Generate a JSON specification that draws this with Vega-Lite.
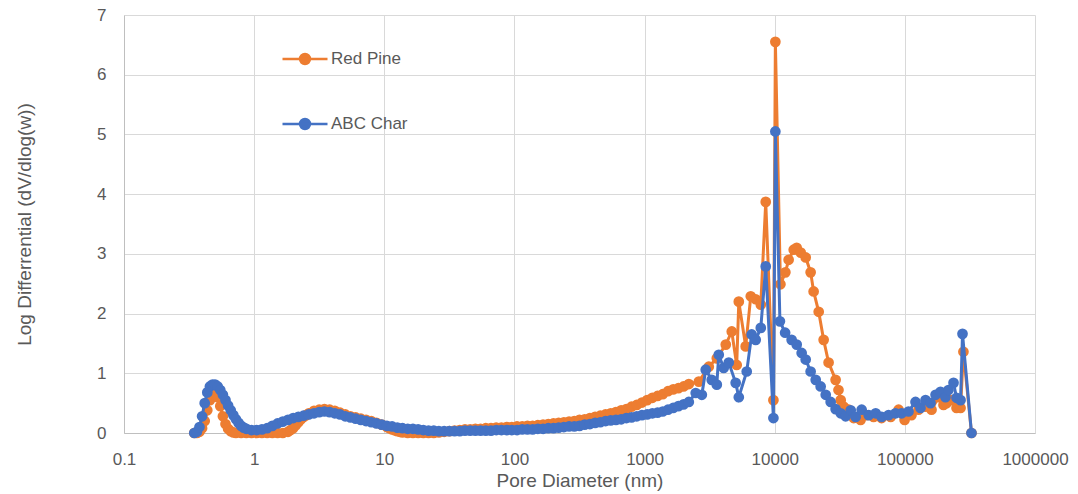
{
"$schema": "https://vega.github.io/schema/vega-lite/v6.json",
"width": 911,
"height": 418,
"autosize": {"type": "none"},
"padding": {"left": 124, "top": 15, "right": 43, "bottom": 61},
"background": "white",
"config": {
  "font": "Liberation Sans",
  "view": {"stroke": null},
  "axis": {"gridColor": "#D9D9D9", "gridWidth": 1, "domainColor": "#BFBFBF", "domainWidth": 1, "ticks": false, "labelColor": "#595959", "titleColor": "#595959", "titleFontWeight": "normal"}
},
"datasets": {
"redPine": [
{"diameter":0.3467,"value":0},{"diameter":0.3631,"value":0},{"diameter":0.3802,"value":0.02},{"diameter":0.3981,"value":0.08},{"diameter":0.4169,"value":0.2},{"diameter":0.4365,"value":0.38},{"diameter":0.4571,"value":0.55},{"diameter":0.4786,"value":0.66},{"diameter":0.5012,"value":0.68},{"diameter":0.5248,"value":0.6},{"diameter":0.5495,"value":0.45},{"diameter":0.5754,"value":0.28},{"diameter":0.6026,"value":0.15},{"diameter":0.631,"value":0.07},{"diameter":0.6607,"value":0.03},{"diameter":0.6918,"value":0.01},{"diameter":0.7244,"value":0},{"diameter":0.7943,"value":0},{"diameter":0.871,"value":0},{"diameter":0.955,"value":0},{"diameter":1.047,"value":0},{"diameter":1.148,"value":0},{"diameter":1.259,"value":0},{"diameter":1.38,"value":0},{"diameter":1.514,"value":0},{"diameter":1.66,"value":0},{"diameter":1.82,"value":0.02},{"diameter":1.905,"value":0.05},{"diameter":1.995,"value":0.08},{"diameter":2.089,"value":0.13},{"diameter":2.188,"value":0.18},{"diameter":2.291,"value":0.23},{"diameter":2.399,"value":0.27},{"diameter":2.512,"value":0.3},{"diameter":2.63,"value":0.33},{"diameter":2.884,"value":0.37},{"diameter":3.162,"value":0.39},{"diameter":3.467,"value":0.4},{"diameter":3.802,"value":0.39},{"diameter":4.169,"value":0.37},{"diameter":4.571,"value":0.34},{"diameter":5.012,"value":0.31},{"diameter":5.495,"value":0.28},{"diameter":6.026,"value":0.26},{"diameter":6.607,"value":0.24},{"diameter":7.244,"value":0.22},{"diameter":7.943,"value":0.2},{"diameter":8.71,"value":0.17},{"diameter":9.55,"value":0.14},{"diameter":10.47,"value":0.1},{"diameter":10.96,"value":0.08},{"diameter":11.48,"value":0.06},{"diameter":12.02,"value":0.045},{"diameter":12.59,"value":0.03},{"diameter":13.18,"value":0.02},{"diameter":13.8,"value":0.01},{"diameter":15.14,"value":0},{"diameter":16.6,"value":0},{"diameter":18.2,"value":0},{"diameter":19.95,"value":0},{"diameter":21.88,"value":0},{"diameter":23.99,"value":0},{"diameter":26.3,"value":0.01},{"diameter":28.84,"value":0.02},{"diameter":31.62,"value":0.03},{"diameter":34.67,"value":0.04},{"diameter":38.02,"value":0.05},{"diameter":41.69,"value":0.06},{"diameter":45.71,"value":0.06},{"diameter":50.12,"value":0.07},{"diameter":54.95,"value":0.07},{"diameter":60.26,"value":0.08},{"diameter":66.07,"value":0.08},{"diameter":72.44,"value":0.09},{"diameter":79.43,"value":0.09},{"diameter":87.1,"value":0.1},{"diameter":95.5,"value":0.1},{"diameter":104.7,"value":0.11},{"diameter":114.8,"value":0.11},{"diameter":125.9,"value":0.12},{"diameter":138,"value":0.12},{"diameter":151.4,"value":0.13},{"diameter":166,"value":0.14},{"diameter":182,"value":0.15},{"diameter":199.5,"value":0.16},{"diameter":218.8,"value":0.17},{"diameter":239.9,"value":0.18},{"diameter":263,"value":0.19},{"diameter":288.4,"value":0.2},{"diameter":316.2,"value":0.22},{"diameter":346.7,"value":0.23},{"diameter":380.2,"value":0.25},{"diameter":416.9,"value":0.27},{"diameter":457.1,"value":0.29},{"diameter":501.2,"value":0.31},{"diameter":549.5,"value":0.33},{"diameter":602.6,"value":0.35},{"diameter":660.7,"value":0.38},{"diameter":724.4,"value":0.4},{"diameter":794.3,"value":0.44},{"diameter":871,"value":0.47},{"diameter":955,"value":0.51},{"diameter":1047,"value":0.55},{"diameter":1148,"value":0.59},{"diameter":1259,"value":0.62},{"diameter":1380,"value":0.65},{"diameter":1514,"value":0.7},{"diameter":1660,"value":0.73},{"diameter":1820,"value":0.75},{"diameter":1995,"value":0.78},{"diameter":2188,"value":0.82},
{"diameter":2612,"value":0.86},{"diameter":3115,"value":1.11},{"diameter":3589,"value":1.25},{"diameter":4207,"value":1.48},{"diameter":4677,"value":1.7},{"diameter":5105,"value":1.14},{"diameter":5297,"value":2.2},{"diameter":5984,"value":1.45},{"diameter":6546,"value":2.29},{"diameter":7145,"value":2.24},{"diameter":7816,"value":2.15},{"diameter":8531,"value":3.87},{"diameter":9772,"value":0.55},{"diameter":10116,"value":6.55},{"diameter":11066,"value":2.49},{"diameter":12078,"value":2.69},{"diameter":12794,"value":2.9},{"diameter":13996,"value":3.07},{"diameter":14757,"value":3.1},{"diameter":15849,"value":3.02},{"diameter":17298,"value":2.94},{"diameter":18880,"value":2.69},{"diameter":19907,"value":2.37},{"diameter":21777,"value":2.03},{"diameter":23768,"value":1.56},{"diameter":25942,"value":1.18},{"diameter":29376,"value":0.89},{"diameter":30903,"value":0.72},{"diameter":32137,"value":0.55},{"diameter":33884,"value":0.44},{"diameter":36983,"value":0.39},{"diameter":40458,"value":0.25},{"diameter":45709,"value":0.22},{"diameter":50816,"value":0.3},{"diameter":57544,"value":0.27},{"diameter":66222,"value":0.25},{"diameter":77804,"value":0.27},{"diameter":89536,"value":0.39},{"diameter":99540,"value":0.22},{"diameter":112460,"value":0.3},{"diameter":127350,"value":0.39},{"diameter":144212,"value":0.44},{"diameter":160325,"value":0.39},{"diameter":181551,"value":0.6},{"diameter":198153,"value":0.47},{"diameter":208930,"value":0.5},{"diameter":228034,"value":0.55},{"diameter":249459,"value":0.42},{"diameter":267917,"value":0.42},{"diameter":281838,"value":1.36},{"diameter":325087,"value":0}
],
"abcChar": [
{"diameter":0.3467,"value":0},{"diameter":0.3631,"value":0.02},{"diameter":0.3802,"value":0.1},{"diameter":0.3981,"value":0.28},{"diameter":0.4169,"value":0.5},{"diameter":0.4365,"value":0.68},{"diameter":0.4571,"value":0.78},{"diameter":0.4786,"value":0.81},{"diameter":0.5012,"value":0.81},{"diameter":0.5248,"value":0.78},{"diameter":0.5495,"value":0.72},{"diameter":0.5754,"value":0.64},{"diameter":0.6026,"value":0.55},{"diameter":0.631,"value":0.46},{"diameter":0.6607,"value":0.38},{"diameter":0.6918,"value":0.3},{"diameter":0.7244,"value":0.23},{"diameter":0.7586,"value":0.17},{"diameter":0.7943,"value":0.12},{"diameter":0.8318,"value":0.09},{"diameter":0.871,"value":0.07},{"diameter":0.955,"value":0.05},{"diameter":1.047,"value":0.05},{"diameter":1.148,"value":0.06},{"diameter":1.259,"value":0.08},{"diameter":1.38,"value":0.12},{"diameter":1.514,"value":0.16},{"diameter":1.66,"value":0.19},{"diameter":1.82,"value":0.22},{"diameter":1.995,"value":0.25},{"diameter":2.188,"value":0.27},{"diameter":2.399,"value":0.29},{"diameter":2.63,"value":0.31},{"diameter":2.884,"value":0.33},{"diameter":3.162,"value":0.35},{"diameter":3.467,"value":0.36},{"diameter":3.802,"value":0.35},{"diameter":4.169,"value":0.33},{"diameter":4.571,"value":0.31},{"diameter":5.012,"value":0.28},{"diameter":5.495,"value":0.26},{"diameter":6.026,"value":0.24},{"diameter":6.607,"value":0.22},{"diameter":7.244,"value":0.2},{"diameter":7.943,"value":0.18},{"diameter":8.71,"value":0.16},{"diameter":9.55,"value":0.14},{"diameter":10.47,"value":0.12},{"diameter":11.48,"value":0.11},{"diameter":12.59,"value":0.09},{"diameter":13.8,"value":0.08},{"diameter":15.14,"value":0.07},{"diameter":16.6,"value":0.07},{"diameter":18.2,"value":0.06},{"diameter":19.95,"value":0.05},{"diameter":21.88,"value":0.04},{"diameter":23.99,"value":0.04},{"diameter":26.3,"value":0.03},{"diameter":28.84,"value":0.03},{"diameter":31.62,"value":0.03},{"diameter":34.67,"value":0.03},{"diameter":38.02,"value":0.03},{"diameter":41.69,"value":0.04},{"diameter":45.71,"value":0.04},{"diameter":50.12,"value":0.04},{"diameter":54.95,"value":0.04},{"diameter":60.26,"value":0.04},{"diameter":66.07,"value":0.04},{"diameter":72.44,"value":0.05},{"diameter":79.43,"value":0.05},{"diameter":87.1,"value":0.05},{"diameter":95.5,"value":0.05},{"diameter":104.7,"value":0.05},{"diameter":114.8,"value":0.06},{"diameter":125.9,"value":0.06},{"diameter":138,"value":0.06},{"diameter":151.4,"value":0.07},{"diameter":166,"value":0.07},{"diameter":182,"value":0.08},{"diameter":199.5,"value":0.08},{"diameter":218.8,"value":0.09},{"diameter":239.9,"value":0.1},{"diameter":263,"value":0.11},{"diameter":288.4,"value":0.11},{"diameter":316.2,"value":0.12},{"diameter":346.7,"value":0.14},{"diameter":380.2,"value":0.15},{"diameter":416.9,"value":0.17},{"diameter":457.1,"value":0.18},{"diameter":501.2,"value":0.2},{"diameter":549.5,"value":0.21},{"diameter":602.6,"value":0.22},{"diameter":660.7,"value":0.23},{"diameter":724.4,"value":0.25},{"diameter":794.3,"value":0.26},{"diameter":871,"value":0.28},{"diameter":955,"value":0.3},{"diameter":1047,"value":0.31},{"diameter":1148,"value":0.33},{"diameter":1259,"value":0.34},{"diameter":1380,"value":0.36},{"diameter":1514,"value":0.39},{"diameter":1660,"value":0.42},{"diameter":1820,"value":0.45},{"diameter":1995,"value":0.48},{"diameter":2188,"value":0.52},
{"diameter":2472,"value":0.67},{"diameter":2754,"value":0.64},{"diameter":2951,"value":1.06},{"diameter":3281,"value":0.89},{"diameter":3589,"value":0.81},{"diameter":3715,"value":1.31},{"diameter":4055,"value":1.09},{"diameter":4436,"value":1.18},{"diameter":5012,"value":0.84},{"diameter":5297,"value":0.6},{"diameter":6095,"value":1.03},{"diameter":6653,"value":1.65},{"diameter":7145,"value":1.56},{"diameter":7816,"value":1.76},{"diameter":8531,"value":2.79},{"diameter":9772,"value":0.25},{"diameter":10116,"value":5.05},{"diameter":10965,"value":1.87},{"diameter":12023,"value":1.68},{"diameter":13490,"value":1.56},{"diameter":14757,"value":1.48},{"diameter":16106,"value":1.34},{"diameter":17298,"value":1.23},{"diameter":18880,"value":1.03},{"diameter":20654,"value":0.89},{"diameter":22542,"value":0.78},{"diameter":24660,"value":0.64},{"diameter":26915,"value":0.52},{"diameter":29376,"value":0.4},{"diameter":32137,"value":0.33},{"diameter":35075,"value":0.28},{"diameter":38371,"value":0.38},{"diameter":41879,"value":0.27},{"diameter":46559,"value":0.39},{"diameter":52723,"value":0.3},{"diameter":59704,"value":0.33},{"diameter":66222,"value":0.27},{"diameter":74989,"value":0.3},{"diameter":84723,"value":0.33},{"diameter":94406,"value":0.33},{"diameter":106660,"value":0.36},{"diameter":120781,"value":0.52},{"diameter":131826,"value":0.42},{"diameter":144212,"value":0.55},{"diameter":157398,"value":0.5},{"diameter":172187,"value":0.64},{"diameter":187932,"value":0.69},{"diameter":205116,"value":0.6},{"diameter":216272,"value":0.72},{"diameter":236592,"value":0.84},{"diameter":249459,"value":0.59},{"diameter":267917,"value":0.55},{"diameter":277332,"value":1.66},{"diameter":325087,"value":0}
]
},
"encoding": {
  "x": {"field": "diameter", "type": "quantitative",
    "scale": {"type": "log", "domain": [0.1, 1000000], "nice": false},
    "axis": {"title": "Pore Diameter (nm)", "values": [0.1, 1, 10, 100, 1000, 10000, 100000, 1000000],
      "labelExpr": "datum.value < 1 ? '0.1' : format(datum.value, 'd')",
      "labelFlush": false, "labelOverlap": false, "labelFontSize": 17, "labelPadding": 18,
      "titleFontSize": 19, "titlePadding": 4, "grid": true}},
  "y": {"field": "value", "type": "quantitative",
    "scale": {"domain": [0, 7], "nice": false, "zero": true},
    "axis": {"title": "Log Differrential (dV/dlog(w))", "values": [0, 1, 2, 3, 4, 5, 6, 7],
      "labelFontSize": 17, "labelPadding": 18, "titleFontSize": 19, "titlePadding": 62, "grid": true}}
},
"layer": [
  {"data": {"name": "redPine"},
   "mark": {"type": "line", "strokeWidth": 3, "point": {"filled": true, "size": 115}},
   "encoding": {"color": {"datum": "Red Pine", "type": "nominal",
     "scale": {"domain": ["Red Pine", "ABC Char"], "range": ["#ED7D31", "#4472C4"]},
     "legend": {"title": null, "orient": "none", "legendX": 157, "legendY": 20, "direction": "vertical",
       "symbolType": "M-1,0L1,0M0.22,0A0.22,0.22,0,1,1,-0.22,0A0.22,0.22,0,1,1,0.22,0Z",
       "symbolSize": 2025, "symbolStrokeWidth": 2.5, "labelFontSize": 17, "labelColor": "#595959",
       "labelOffset": 2, "rowPadding": 31,
       "encode": {"symbols": {"update": {"fill": {"scale": "color", "field": "value"}, "fillOpacity": {"value": 1}}}}}}}},
  {"data": {"name": "abcChar"},
   "mark": {"type": "line", "strokeWidth": 3, "point": {"filled": true, "size": 115}},
   "encoding": {"color": {"datum": "ABC Char", "type": "nominal"}}}
]
}
